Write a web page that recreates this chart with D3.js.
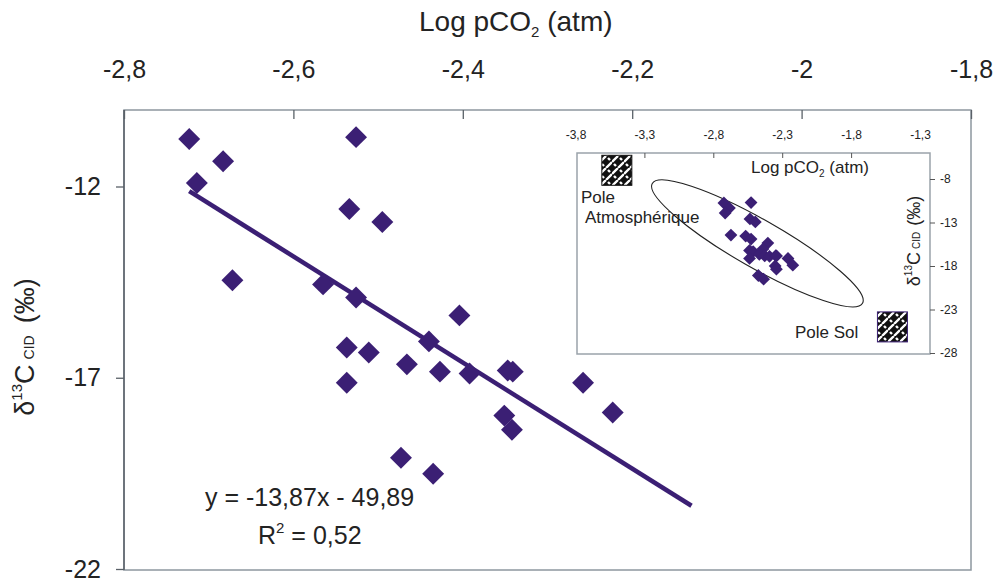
<!DOCTYPE html>
<html><head><meta charset="utf-8">
<script src="https://cdn.jsdelivr.net/npm/d3@7"></script>
<style>
body{margin:0;background:#fff}
svg{display:block}
text{font-family:"Liberation Sans",Arial,Helvetica,sans-serif;fill:#232323}
</style>
</head><body>
<svg id="c" width="996" height="581"></svg>
<script>
// ---- data ----
const logPCO2 = [-2.723,-2.526,-2.683,-2.714,-2.534,-2.495,-2.672,-2.565,-2.526,-2.404,
                 -2.440,-2.537,-2.511,-2.466,-2.427,-2.392,-2.347,-2.341,-2.537,-2.258,
                 -2.223,-2.351,-2.342,-2.473,-2.435];
const d13C    = [-10.76,-10.71,-11.34,-11.91,-12.59,-12.93,-14.45,-14.56,-14.90,-15.37,
                 -16.05,-16.21,-16.34,-16.65,-16.84,-16.89,-16.81,-16.84,-17.13,-17.13,
                 -17.91,-17.99,-18.36,-19.09,-19.51];
const xTickValues = [-2.8,-2.6,-2.4,-2.2,-2,-1.8];
const yTickValues = [-12,-17,-22];
const insetXTickValues = [-3.8,-3.3,-2.8,-2.3,-1.8,-1.3];
const insetYTickValues = [-8,-13,-18,-23,-28];
const trendSlope = -13.87, trendIntercept = -49.89;
const trendXRange = [-2.723,-2.13];
const poleNames = ["Atmosphérique","Sol"];
const poleX = [-3.5,-1.5];
const poleY = [-7,-25];
const ellipseCenter = [-2.48,-15.4];

const fmt = v => String(v).replace(".", ",");
const COL = "#3b1f74";
const FONT = '"Liberation Sans",Arial,sans-serif';

const svg = d3.select("#c");

// basket-weave pattern for the poles
const defs = svg.append("defs");
const pat = defs.append("pattern").attr("id","weave").attr("patternUnits","userSpaceOnUse")
  .attr("width",12).attr("height",12);
pat.append("rect").attr("width",12).attr("height",12).attr("fill","#111");
pat.append("path").attr("d","M0,6 L6,0 M6,12 L12,6").attr("stroke","#fff").attr("stroke-width",2.4);
pat.append("path").attr("d","M2,8 L4,10 M8,2 L10,4").attr("stroke","#fff").attr("stroke-width",2.4);

// ---- main scales ----
const x = d3.scaleLinear().domain([-2.8,-1.8]).range([124,971]);
const y = d3.scaleLinear().domain([-22,-10]).range([569,110]);

// frame
svg.append("rect").attr("x",124).attr("y",110).attr("width",847).attr("height",460)
  .attr("fill","none").attr("stroke","#8d979f").attr("stroke-width",1.5);
svg.append("line").attr("x1",124).attr("x2",124).attr("y1",110).attr("y2",570)
  .attr("stroke","#5a6168").attr("stroke-width",1.5);

// top axis
const xAxis = d3.axisTop(x).tickValues(xTickValues).tickFormat(fmt).tickSize(-9);
const gx = svg.append("g").attr("transform","translate(0,110)").call(xAxis);
gx.select(".domain").remove();
gx.selectAll(".tick line").attr("stroke","#5a6168").attr("stroke-width",1.3);
gx.selectAll(".tick text").attr("font-size",25).attr("fill","#232323")
  .attr("font-family",FONT).attr("dy",0).attr("y",-32);

// left axis
const yAxis = d3.axisLeft(y).tickValues(yTickValues).tickFormat(fmt).tickSize(8).tickPadding(15);
const gy = svg.append("g").attr("transform","translate(124,0)").call(yAxis);
gy.select(".domain").remove();
gy.selectAll(".tick line").attr("stroke","#5a6168").attr("stroke-width",1.3);
gy.selectAll(".tick text").attr("font-size",25).attr("fill","#232323").attr("font-family",FONT);

// axis titles
const t1 = svg.append("text").attr("x",419).attr("y",31).attr("font-size",28);
t1.append("tspan").text("Log pCO");
t1.append("tspan").attr("font-size",15).attr("dy",6).text("2");
t1.append("tspan").attr("dy",-6).text(" (atm)");

const t2 = svg.append("text").attr("transform","translate(34,347) rotate(-90)")
  .attr("text-anchor","middle").attr("font-size",27);
t2.append("tspan").text("δ");
t2.append("tspan").attr("font-size",15).attr("dy",-12).text("13");
t2.append("tspan").attr("dy",12).text("C");
t2.append("tspan").attr("font-size",14).attr("dx",5).text("CID");
t2.append("tspan").attr("dx",12).text("(‰)");

// trend line
svg.append("line")
  .attr("x1",x(trendXRange[0])).attr("y1",y(trendSlope*trendXRange[0]+trendIntercept))
  .attr("x2",x(trendXRange[1])).attr("y2",y(trendSlope*trendXRange[1]+trendIntercept))
  .attr("stroke",COL).attr("stroke-width",4.5);

// main points
const pts = d3.range(logPCO2.length);
svg.append("g").selectAll("path").data(pts).join("path")
  .attr("d", d3.symbol(d3.symbolSquare, 240)())
  .attr("transform", i => `translate(${x(logPCO2[i])},${y(d13C[i])}) rotate(45)`)
  .attr("fill", COL);

// equation
svg.append("text").attr("x",205).attr("y",506).attr("font-size",25).text("y = -13,87x - 49,89");
const r2 = svg.append("text").attr("x",258).attr("y",544).attr("font-size",25);
r2.append("tspan").text("R");
r2.append("tspan").attr("font-size",15).attr("dy",-11).text("2");
r2.append("tspan").attr("dy",11).text(" = 0,52");

// ---- inset ----
const xi = d3.scaleLinear().domain([-3.8,-1.3]).range([575.5,920]);
const yi = d3.scaleLinear().domain([-28,-8]).range([353,179]);
const ib = {x0:577, x1:930, y0:153, y1:354};

svg.append("rect").attr("x",ib.x0).attr("y",ib.y0).attr("width",ib.x1-ib.x0).attr("height",ib.y1-ib.y0)
  .attr("fill","#fff").attr("stroke","#9aa3aa").attr("stroke-width",1.5);

const gxi = svg.append("g").attr("transform",`translate(0,${ib.y0})`)
  .call(d3.axisTop(xi).tickValues(insetXTickValues).tickFormat(fmt).tickSize(-5).tickPadding(14));
gxi.select(".domain").remove();
gxi.selectAll(".tick line").attr("stroke","#555")
  .attr("opacity", d => (d > -3.5 && d < -1.5) ? 1 : 0);
gxi.selectAll(".tick text").attr("font-size",12).attr("fill","#232323")
  .attr("font-family",'"Liberation Sans Narrow","Liberation Sans",Arial,sans-serif');

const gyi = svg.append("g").attr("transform",`translate(${ib.x1},0)`)
  .call(d3.axisRight(yi).tickValues(insetYTickValues).tickFormat(fmt).tickSize(5).tickPadding(5));
gyi.select(".domain").remove();
gyi.selectAll(".tick line").attr("stroke","#555");
gyi.selectAll(".tick text").attr("font-size",12).attr("fill","#232323")
  .attr("font-family",'"Liberation Sans Narrow","Liberation Sans",Arial,sans-serif');

// ellipse
svg.append("ellipse").attr("cx",0).attr("cy",0).attr("rx",121).attr("ry",24)
  .attr("transform",`translate(${xi(ellipseCenter[0])},${yi(ellipseCenter[1])}) rotate(29.7)`)
  .attr("fill","none").attr("stroke","#222").attr("stroke-width",1.1);

// inset points
svg.append("g").selectAll("path").data(pts).join("path")
  .attr("d", d3.symbol(d3.symbolSquare, 82)())
  .attr("transform", i => `translate(${xi(logPCO2[i])},${yi(d13C[i])}) rotate(45)`)
  .attr("fill", COL);

// poles
svg.append("g").selectAll("rect").data([0,1]).join("rect")
  .attr("x", i => xi(poleX[i]) - 15).attr("y", i => yi(poleY[i]) - 15)
  .attr("width",30).attr("height",30)
  .attr("fill","url(#weave)").attr("stroke", i => i ? "#3b1f74" : "#111").attr("stroke-width",1);

svg.append("text").attr("x",581).attr("y",203).attr("font-size",17).text("Pole");
svg.append("text").attr("x",585).attr("y",223).attr("font-size",17).text(poleNames[0]);
svg.append("text").attr("x",795).attr("y",338).attr("font-size",17).text("Pole " + poleNames[1]);

const t3 = svg.append("text").attr("x",751).attr("y",173).attr("font-size",17);
t3.append("tspan").text("Log pCO");
t3.append("tspan").attr("font-size",10).attr("dy",4).text("2");
t3.append("tspan").attr("dy",-4).text(" (atm)");

const t4 = svg.append("text").attr("transform","translate(920,241) rotate(-90)")
  .attr("text-anchor","middle").attr("font-size",18);
t4.append("tspan").text("δ");
t4.append("tspan").attr("font-size",10).attr("dy",-8).text("13");
t4.append("tspan").attr("dy",8).text("C");
t4.append("tspan").attr("font-size",10).attr("dx",3).text("CID");
t4.append("tspan").attr("dx",6).text("(‰)");
</script>
</body></html>
